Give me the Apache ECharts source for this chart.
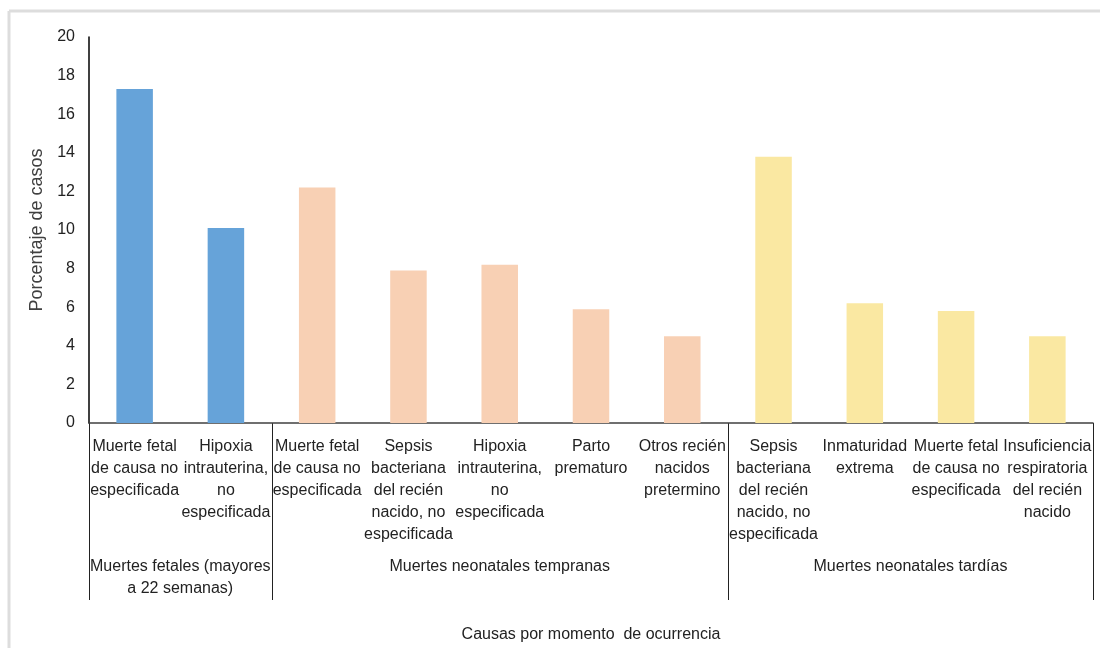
<!DOCTYPE html>
<html>
<head>
<meta charset="utf-8">
<script src="https://cdn.jsdelivr.net/npm/echarts@6/dist/echarts.min.js"></script>
<style>
html,body{margin:0;padding:0;background:#fff;}
#chart{width:1100px;height:648px;}
</style>
</head>
<body>
<div id="chart"></div>
<script>
// ---- data ----
const categories = [
  "Muerte fetal\nde causa no\nespecificada",
  "Hipoxia\nintrauterina,\nno\nespecificada",
  "Muerte fetal\nde causa no\nespecificada",
  "Sepsis\nbacteriana\ndel recién\nnacido, no\nespecificada",
  "Hipoxia\nintrauterina,\nno\nespecificada",
  "Parto\nprematuro",
  "Otros recién\nnacidos\npretermino",
  "Sepsis\nbacteriana\ndel recién\nnacido, no\nespecificada",
  "Inmaturidad\nextrema",
  "Muerte fetal\nde causa no\nespecificada",
  "Insuficiencia\nrespiratoria\ndel recién\nnacido"
];
const values = [17.3, 10.1, 12.2, 7.9, 8.2, 5.9, 4.5, 13.8, 6.2, 5.8, 4.5];
const groupNames = ["Muertes fetales (mayores\na 22 semanas)", "Muertes neonatales tempranas", "Muertes neonatales tardías"];
const groupSizes = [2, 5, 4];
const groupColors = ["#66a3d9", "#f8d0b4", "#fae8a2"];
const yTicks = [0, 2, 4, 6, 8, 10, 12, 14, 16, 18, 20];
const yName = "Porcentaje de casos";
const xName = "Causas por momento  de ocurrencia";

// colour per bar derived from group membership
const barColors = [];
groupSizes.forEach((n, g) => { for (let i = 0; i < n; i++) barColors.push(groupColors[g]); });

const FONT = "Liberation Sans, Arial, sans-serif";
const TXT = "#222222";

const chart = echarts.init(document.getElementById('chart'), null, {renderer: 'canvas'});
const option = {
  animation: false,
  backgroundColor: '#ffffff',
  grid: {left: 89, right: 7, top: 37, bottom: 225, containLabel: false, outerBoundsMode: 'none'},
  xAxis: {
    type: 'category',
    data: categories,
    name: xName,
    nameLocation: 'middle',
    nameGap: 204,
    nameTextStyle: {fontFamily: FONT, fontSize: 16, color: TXT},
    axisLine: {show: true, lineStyle: {color: '#404040', width: 1.5}},
    axisTick: {show: false},
    axisLabel: {
      interval: 0, margin: 13, fontFamily: FONT, fontSize: 16, lineHeight: 22,
      color: TXT, align: 'center', verticalAlign: 'top'
    },
    splitLine: {show: false}
  },
  yAxis: {
    type: 'value',
    min: yTicks[0],
    max: yTicks[yTicks.length - 1],
    interval: yTicks[1] - yTicks[0],
    name: yName,
    nameLocation: 'middle',
    nameGap: 37,
    nameTextStyle: {fontFamily: FONT, fontSize: 18, color: '#404040'},
    axisLine: {show: true, lineStyle: {color: '#000000', width: 1.5}},
    axisTick: {show: false},
    axisLabel: {fontFamily: FONT, fontSize: 16, color: TXT, margin: 14},
    splitLine: {show: false}
  },
  series: [{
    type: 'bar',
    data: values.map((v, i) => ({value: v, itemStyle: {color: barColors[i]}})),
    barWidth: '40%'
  }]
};
chart.setOption(option);

// group separators and labels positioned from the axis scale
function drawGroups() {
  const c0 = chart.convertToPixel({xAxisIndex: 0}, 0);
  const c1 = chart.convertToPixel({xAxisIndex: 0}, 1);
  const bw = c1 - c0;
  const y0 = chart.convertToPixel({yAxisIndex: 0}, 0);
  const elements = [];
  // decorative frame lines (top and left)
  elements.push({type: 'line', shape: {x1: 9, y1: 11, x2: 1100, y2: 11}, style: {stroke: '#dddddd', lineWidth: 3}, silent: true});
  elements.push({type: 'line', shape: {x1: 9, y1: 11, x2: 9, y2: 648}, style: {stroke: '#dddddd', lineWidth: 3}, silent: true});
  let start = 0;
  const bounds = [0];
  groupSizes.forEach(n => { start += n; bounds.push(start); });
  bounds.forEach(b => {
    const x = Math.round(c0 - bw / 2 + b * bw) + 0.5;
    elements.push({type: 'line', shape: {x1: x, y1: y0, x2: x, y2: y0 + 177}, style: {stroke: '#222222', lineWidth: 1}, silent: true});
  });
  for (let g = 0; g < groupSizes.length; g++) {
    const xl = c0 - bw / 2 + bounds[g] * bw;
    const xr = c0 - bw / 2 + bounds[g + 1] * bw;
    elements.push({
      type: 'text', x: (xl + xr) / 2, y: y0 + 133,
      style: {text: groupNames[g], fontFamily: FONT, fontSize: 16, lineHeight: 22, fill: TXT, align: 'center', verticalAlign: 'top'},
      silent: true
    });
  }
  chart.setOption({graphic: {elements: elements}});
}
drawGroups();
</script>
</body>
</html>
